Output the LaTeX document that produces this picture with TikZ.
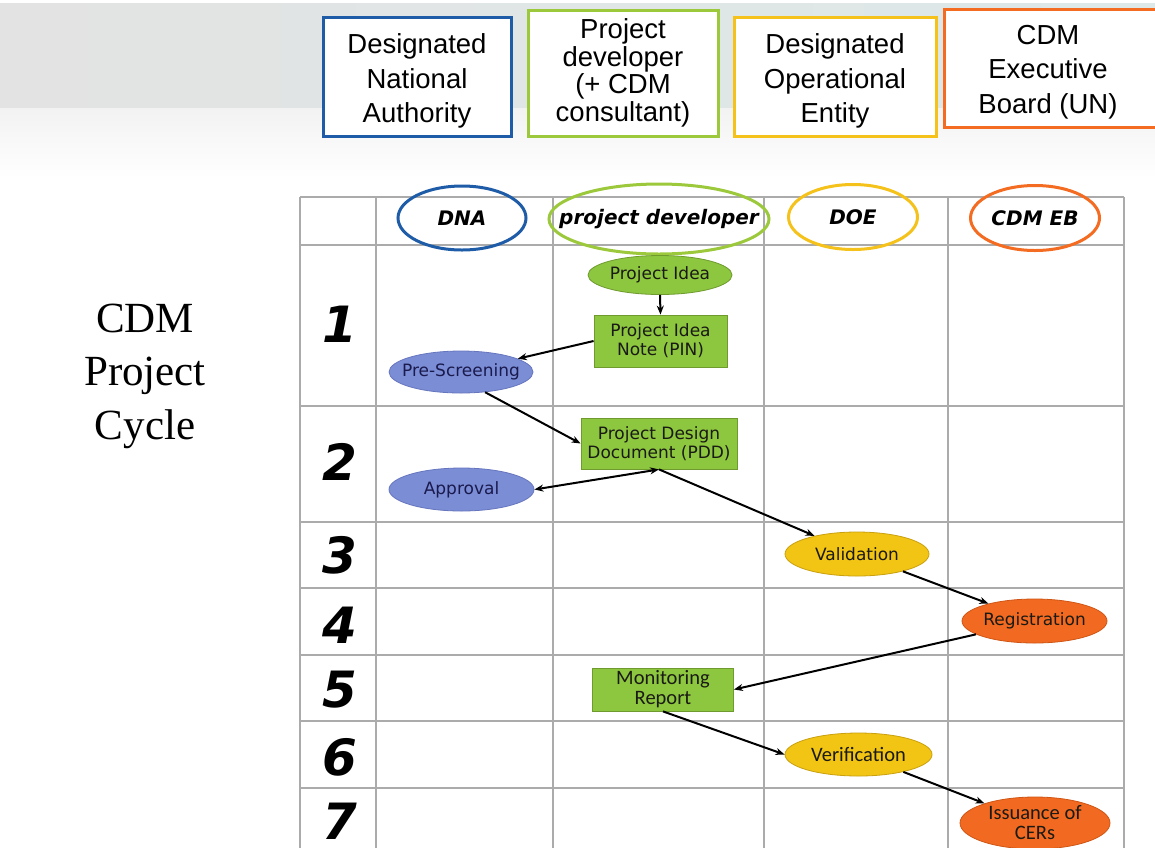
\documentclass[tikz,border=0pt]{standalone}
\usepackage{fontspec}
\setmainfont{Liberation Sans}
\newfontfamily\serifface{Liberation Serif}
\newfontfamily\verdface{DejaVu Sans}
\newfontfamily\calface{Carlito}
\usetikzlibrary{shapes.geometric,arrows.meta}

\definecolor{dnablue}{HTML}{1F5CA8}
\definecolor{devgreen}{HTML}{9CC93B}
\definecolor{doeyellow}{HTML}{F5C21B}
\definecolor{eborange}{HTML}{F36C21}
\definecolor{gridgray}{HTML}{ABABAB}
\definecolor{greenfill}{HTML}{8DC63F}
\definecolor{greenedge}{HTML}{6E9A2E}
\definecolor{bluefill}{HTML}{7B8DD5}
\definecolor{blueedge}{HTML}{6676BE}
\definecolor{yellowfill}{HTML}{F2C414}
\definecolor{yellowedge}{HTML}{C9A00E}
\definecolor{orangefill}{HTML}{F26A21}
\definecolor{orangeedge}{HTML}{CF5515}
\definecolor{navytext}{HTML}{1A1A4D}
\definecolor{darktext}{HTML}{1A1A14}

\tikzset{
  rolebox/.style={draw, line width=3pt, fill=white, inner sep=0pt},
  roletext/.style={align=center, inner sep=0pt, font=\fontsize{27.5}{34.5}\selectfont},
  headoval/.style={ellipse, draw, line width=3pt, inner sep=0pt},
  headtext/.style={inner sep=0pt, font=\verdface\bfseries\itshape\fontsize{20}{22}\selectfont},
  rownum/.style={inner sep=0pt, font=\verdface\bfseries\itshape\fontsize{50}{50}\selectfont},
  stepoval/.style={ellipse, draw, inner sep=0pt, line width=0.8pt},
  steptext/.style={inner sep=0pt, align=center, font=\verdface\fontsize{17}{19}\selectfont},
  calibri/.style={inner sep=0pt, align=center, font=\calface\fontsize{20.5}{20}\selectfont},
  stepbox/.style={rectangle, draw, inner sep=0pt, line width=0.8pt, align=center,
    fill=greenfill, draw=greenedge, text=darktext,
    font=\verdface\fontsize{17}{19}\selectfont},
  greenoval/.style={stepoval, fill=greenfill, draw=greenedge},
  blueoval/.style={stepoval, fill=bluefill, draw=blueedge},
  yellowoval/.style={stepoval, fill=yellowfill, draw=yellowedge},
  orangeoval/.style={stepoval, fill=orangefill, draw=orangeedge},
  flow/.style={draw, line width=2pt, -{Stealth[length=9pt,width=7pt]}},
  flowboth/.style={draw, line width=2pt, {Stealth[length=9pt,width=7pt]}-{Stealth[length=9pt,width=7pt]}},
  gridline/.style={draw=gridgray, line width=1.5pt}
}

\begin{document}
\begin{tikzpicture}[x=1pt,y=-1pt]
\useasboundingbox (0,0) rectangle (1155,847);

% slide background: grey band fading to white
\fill[white] (0,0) rectangle (1155,847);
\shade[left color=black!11, right color={rgb,255:red,221;green,232;blue,232}] (0,3) rectangle (1155,108);
\shade[top color=black!5, bottom color=white] (0,108) rectangle (1155,178);

% role legend boxes
\node[rolebox, draw=dnablue, minimum width=188pt, minimum height=119pt,
  label={[roletext, yshift=-4.5pt]center:Designated\\National\\Authority}] (leg-dna) at (417,76.5) {};
\node[rolebox, draw=devgreen, minimum width=190pt, minimum height=126pt,
  label={[roletext, font=\fontsize{27.5}{27.5}\selectfont]center:Project\\developer\\(+ CDM\\consultant)}] (leg-dev) at (623,73) {};
\node[rolebox, draw=doeyellow, minimum width=202pt, minimum height=119pt,
  label={[roletext, yshift=-4.5pt]center:Designated\\Operational\\Entity}] (leg-doe) at (835,76.5) {};
\node[rolebox, draw=eborange, minimum width=212pt, minimum height=118pt,
  label={[roletext, yshift=-4pt, xshift=-2pt]center:CDM\\Executive\\Board (UN)}] (leg-eb) at (1050,68) {};

% title at the left
\node[align=center, inner sep=0pt, font=\serifface\fontsize{43}{53.5}\selectfont] (title) at (145,376)
  {CDM\\Project\\Cycle};

% table grid
\fill[white] (300,197) rectangle (1124,847);
\foreach \yy in {197,245,406,522,588,655,721,788}
  \draw[gridline] (300,\yy) -- (1124,\yy);
\foreach \xx in {300,376,553,764,948,1124}
  \draw[gridline] (\xx,197) -- (\xx,848);

% column heads
\node[headoval, draw=dnablue, minimum width=128pt, minimum height=64pt,
  label={[headtext]center:DNA}] (h-dna) at (462,218) {};
\node[headoval, draw=devgreen, minimum width=220pt, minimum height=70pt,
  label={[headtext]center:project developer}] (h-dev) at (659,219) {};
\node[headoval, draw=doeyellow, minimum width=129pt, minimum height=65pt,
  label={[headtext]center:DOE}] (h-doe) at (853,217) {};
\node[headoval, draw=eborange, minimum width=129pt, minimum height=65pt,
  label={[headtext]center:CDM EB}] (h-eb) at (1035,218) {};

% stage numbers
\node[rownum] (n1) at (340,324) {1};
\node[rownum] (n2) at (340,462) {2};
\node[rownum] (n3) at (340,555) {3};
\node[rownum] (n4) at (340,625) {4};
\node[rownum] (n5) at (340,690) {5};
\node[rownum] (n6) at (340,757) {6};
\node[rownum] (n7) at (340,821) {7};

% process steps
\node[greenoval, minimum width=144pt, minimum height=39pt,
  label={[steptext, text=darktext]center:Project Idea}] (idea) at (660,275) {};
\node[stepbox, minimum width=133pt, minimum height=52pt] (pin) at (660.5,341) {Project Idea\\Note (PIN)};
\node[blueoval, minimum width=144pt, minimum height=42pt,
  label={[steptext, text=navytext]center:Pre-Screening}] (pre) at (461,372) {};
\node[stepbox, minimum width=156pt, minimum height=51pt] (pdd) at (659,443.5) {Project Design\\Document (PDD)};
\node[blueoval, minimum width=145pt, minimum height=43pt,
  label={[steptext, text=navytext]center:Approval}] (app) at (461.5,489.5) {};
\node[yellowoval, minimum width=144pt, minimum height=44pt,
  label={[steptext, text=darktext]center:Validation}] (val) at (857,554) {};
\node[orangeoval, minimum width=145pt, minimum height=44pt,
  label={[steptext, text=darktext]center:Registration}] (reg) at (1034.5,621) {};
\node[stepbox, font=\calface\fontsize{20.5}{20}\selectfont,
  minimum width=141pt, minimum height=43pt] (mon) at (663,689.5) {Monitoring\\Report};
\node[yellowoval, minimum width=147pt, minimum height=43pt,
  label={[calibri, text=darktext]center:Verification}] (ver) at (858.5,754.5) {};
\node[orangeoval, minimum width=150pt, minimum height=52pt,
  label={[calibri, text=darktext]center:Issuance of\\CERs}] (iss) at (1035,823) {};

% flow of the cycle
\draw[flow] (idea.south) -- (pin.north);
\draw[flow] (pin.west) -- (pre);
\draw[flow] (pre.-40) -- (pdd.west);
\draw[flowboth] (pdd.south) -- (app.east);
\draw[flow] (pdd.south) -- (val);
\draw[flow] (val) -- (reg);
\draw[flow] (reg) -- (mon.east);
\draw[flow] (mon.south) -- (ver.west);
\draw[flow] (ver) -- (iss);
\end{tikzpicture}
\end{document}
